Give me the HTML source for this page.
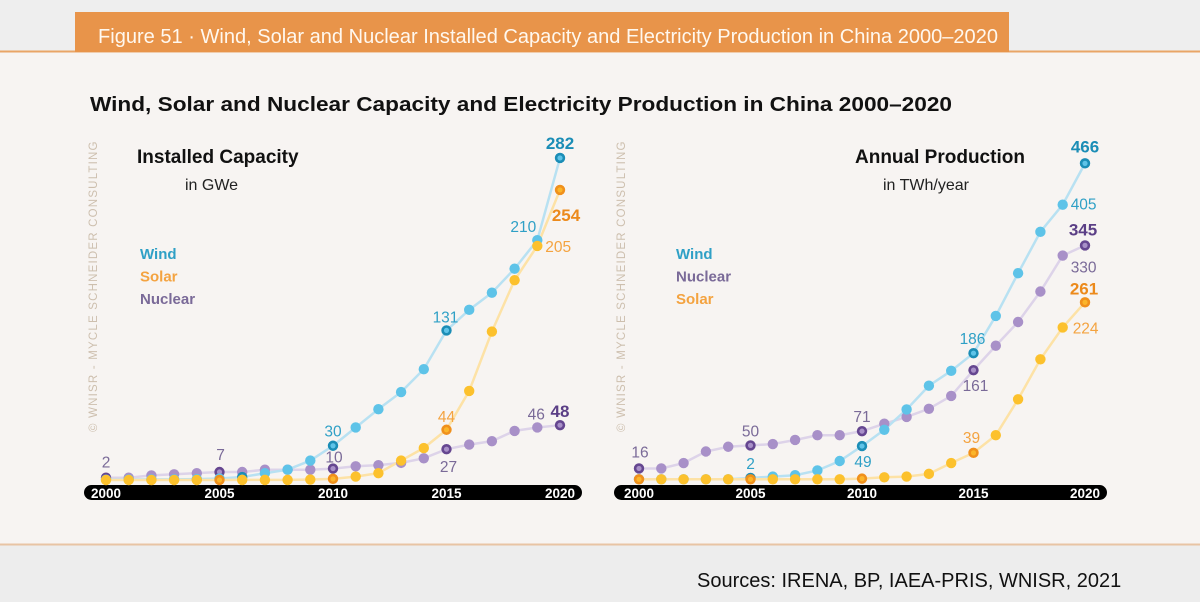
<!DOCTYPE html>
<html><head><meta charset="utf-8"><style>
html,body{margin:0;padding:0;}
body{width:1200px;height:602px;background:#ededed;position:relative;overflow:hidden;font-family:"Liberation Sans",sans-serif;}
</style></head><body>
<svg id="chart" width="1200" height="602" viewBox="0 0 1200 602" xmlns="http://www.w3.org/2000/svg" style="position:absolute;left:0;top:0">
<rect x="0" y="0" width="1200" height="52" fill="#eeeeee"/>
<rect x="0" y="52" width="1200" height="492" fill="#f7f4f2"/>
<line x1="0" y1="51.5" x2="1200" y2="51.5" stroke="#e9a566" stroke-width="2"/>
<line x1="0" y1="544.5" x2="1200" y2="544.5" stroke="#e8c4a4" stroke-width="2"/>
<rect x="75" y="12" width="934" height="40" fill="#e8944a"/>
<text x="98" y="43" font-size="20" fill="#fff8ef" font-family="Liberation Sans Narrow, Liberation Sans, sans-serif" textLength="900" lengthAdjust="spacingAndGlyphs">Figure 51 · Wind, Solar and Nuclear Installed Capacity and Electricity Production in China 2000–2020</text>
<text x="90" y="111" font-size="20" font-weight="bold" fill="#111" textLength="862" lengthAdjust="spacingAndGlyphs">Wind, Solar and Nuclear Capacity and Electricity Production in China 2000–2020</text>
<text x="697" y="587" font-size="20" fill="#111">Sources: IRENA, BP, IAEA-PRIS, WNISR, 2021</text>
<g id="left"></g><g id="right"></g>
</svg>
<script>
const years = [2000,2001,2002,2003,2004,2005,2006,2007,2008,2009,2010,2011,2012,2013,2014,2015,2016,2017,2018,2019,2020];
const capWind = [0.3,0.4,0.5,0.6,0.8,1.3,2.6,5.9,9,17,30,46,62,77,97,131,149,164,185,210,282];
const capSolar = [0,0,0,0,0,0,0.1,0.1,0.1,0.4,1,3,6,17,28,44,78,130,175,205,254];
const capNuclear = [2,2,4,5,6,7,7,9,9,9,10,12,13,15,19,27,31,34,43,46,48];
const prodWind = [0,0,0,0,0,2,4,6,13,27,49,73,103,138,160,186,241,304,365,405,466];
const prodNuclear = [16,16,24,41,48,50,52,58,65,65,71,82,92,104,123,161,197,232,277,330,345];
const prodSolar = [0,0,0,0,0,0,0,0,0,0,1,3,4,8,24,39,65,118,177,224,261];
const tickYears = [2000,2005,2010,2015,2020];

const NS="http://www.w3.org/2000/svg";
function mk(parent,tag,attrs,text){const e=document.createElementNS(NS,tag);for(const k in attrs)e.setAttribute(k,attrs[k]);if(text!==undefined)e.textContent=text;parent.appendChild(e);return e;}

const C={
 wind:{line:"#b8e1f2",dot:"#5ec3e8",dark:"#1b8db6",inner:"#5ec3e8",lab:"#2fa0c6",bold:"#1b8db6"},
 solar:{line:"#fde2a6",dot:"#fcc12d",dark:"#f0901c",inner:"#fbb52a",lab:"#f4a340",bold:"#ec8a1c"},
 nuclear:{line:"#ddd3e9",dot:"#a890c8",dark:"#654690",inner:"#a890c8",lab:"#7a6a98",bold:"#5b3f86"}
};

function panel(g,cfg){
 const xs=y=>cfg.x0+(y-2000)*(cfg.x1-cfg.x0)/20;
 const ys=v=>cfg.base-v*cfg.k;
 const wm=mk(g,'text',{x:0,y:0,'font-size':11.5,fill:'#cdbfae','letter-spacing':'1.2',transform:`translate(${cfg.wmx},432) rotate(-90)`,'text-anchor':'start'},'© WNISR - MYCLE SCHNEIDER CONSULTING');
 
 
 const t1=mk(g,'text',{x:cfg.tx,y:163,'font-size':19,'font-weight':'bold',fill:'#111'},cfg.title);
 
 
 const t2=mk(g,'text',{x:cfg.tx2,y:190,'font-size':16,fill:'#222'},cfg.unit);
 
 
 cfg.legend.forEach((s,i)=>{
  const l=mk(g,'text',{x:cfg.lx,y:259+i*22.5,'font-size':15,'font-weight':'bold',fill:C[s.key].lab},s.name);
  
  
 });
 const bar=mk(g,'rect',{x:cfg.bx0,y:485,width:cfg.bx1-cfg.bx0,height:15,rx:7.5,fill:'#000'});
 
 
 tickYears.forEach(y=>{
  const t=mk(g,'text',{x:xs(y),y:498,'font-size':13.5,'font-weight':'bold',fill:'#fff','text-anchor':'middle'},String(y));
  
  
 });
 cfg.series.forEach(s=>{
  const c=C[s.key];
  const pts=s.data.map((v,i)=>xs(years[i])+','+ys(v)).join(' ');
  const pl=mk(g,'polyline',{points:pts,fill:'none',stroke:c.line,'stroke-width':2.5});
  
  
 });
 cfg.series.forEach(s=>{
  const c=C[s.key];
  s.data.forEach((v,i)=>{
   const hi=s.hi.includes(years[i]);
   const d=mk(g,'circle',{cx:xs(years[i]),cy:ys(v),r:5.2,fill:hi?c.dark:c.dot});
   
   
   if(hi) mk(g,'circle',{cx:xs(years[i]),cy:ys(v),r:2.6,fill:c.inner});
  });
 });
 cfg.labels.forEach(L=>{
  const s=cfg.series.find(q=>q.key===L.key);
  const i=years.indexOf(L.year);
  const c=C[L.key];
  const t=mk(g,'text',{x:xs(L.year)+L.dx,y:ys(s.data[i])+L.dy,'font-size':L.bold?17:15.5,'font-weight':L.bold?'bold':'normal',fill:L.bold?c.bold:c.lab,'text-anchor':L.a||'middle'},String(s.data[i]));
  
  
 });
}

panel(document.getElementById('left'),{
 x0:106,x1:560,base:480,k:1.142,wmx:97,bx0:84,bx1:582,
 title:'Installed Capacity',tx:137,unit:'in GWe',tx2:185,lx:140,
 legend:[{key:'wind',name:'Wind'},{key:'solar',name:'Solar'},{key:'nuclear',name:'Nuclear'}],
 series:[
  {key:'nuclear',data:capNuclear,hi:[2000,2005,2010,2015,2020]},
  {key:'wind',data:capWind,hi:[2006,2010,2015,2020]},
  {key:'solar',data:capSolar,hi:[2005,2010,2015,2020]}
 ],
 labels:[
  {key:'nuclear',year:2000,dx:0,dy:-10},{key:'nuclear',year:2005,dx:1,dy:-12},
  {key:'nuclear',year:2010,dx:1,dy:-6},{key:'wind',year:2010,dx:0,dy:-9},
  {key:'wind',year:2015,dx:-1,dy:-8},{key:'solar',year:2015,dx:0,dy:-8},
  {key:'nuclear',year:2015,dx:2,dy:23},{key:'nuclear',year:2019,dx:-1,dy:-8},
  {key:'nuclear',year:2020,dx:0,dy:-8,bold:true},{key:'wind',year:2019,dx:-14,dy:-8},
  {key:'solar',year:2019,dx:8,dy:6,a:'start'},{key:'solar',year:2020,dx:6,dy:31,bold:true},
  {key:'wind',year:2020,dx:0,dy:-9,bold:true}
 ]
});
panel(document.getElementById('right'),{
 x0:639,x1:1085,base:479.3,k:0.678,wmx:625,bx0:614,bx1:1107,
 title:'Annual Production',tx:855,unit:'in TWh/year',tx2:883,lx:676,
 legend:[{key:'wind',name:'Wind'},{key:'nuclear',name:'Nuclear'},{key:'solar',name:'Solar'}],
 series:[
  {key:'nuclear',data:prodNuclear,hi:[2000,2005,2010,2015,2020]},
  {key:'wind',data:prodWind,hi:[2005,2010,2015,2020]},
  {key:'solar',data:prodSolar,hi:[2000,2005,2010,2015,2020]}
 ],
 labels:[
  {key:'nuclear',year:2000,dx:1,dy:-11},{key:'nuclear',year:2005,dx:0,dy:-9},
  {key:'wind',year:2005,dx:0,dy:-9},{key:'nuclear',year:2010,dx:0,dy:-9},
  {key:'wind',year:2010,dx:1,dy:21},{key:'wind',year:2015,dx:-1,dy:-9},
  {key:'solar',year:2015,dx:-2,dy:-10},{key:'nuclear',year:2015,dx:2,dy:21},
  {key:'wind',year:2019,dx:8,dy:5,a:'start'},{key:'nuclear',year:2019,dx:8,dy:17,a:'start'},
  {key:'nuclear',year:2020,dx:-2,dy:-10,bold:true},{key:'solar',year:2019,dx:10,dy:6,a:'start'},
  {key:'solar',year:2020,dx:-1,dy:-8,bold:true},{key:'wind',year:2020,dx:0,dy:-11,bold:true}
 ]
});
</script>
</body></html>
